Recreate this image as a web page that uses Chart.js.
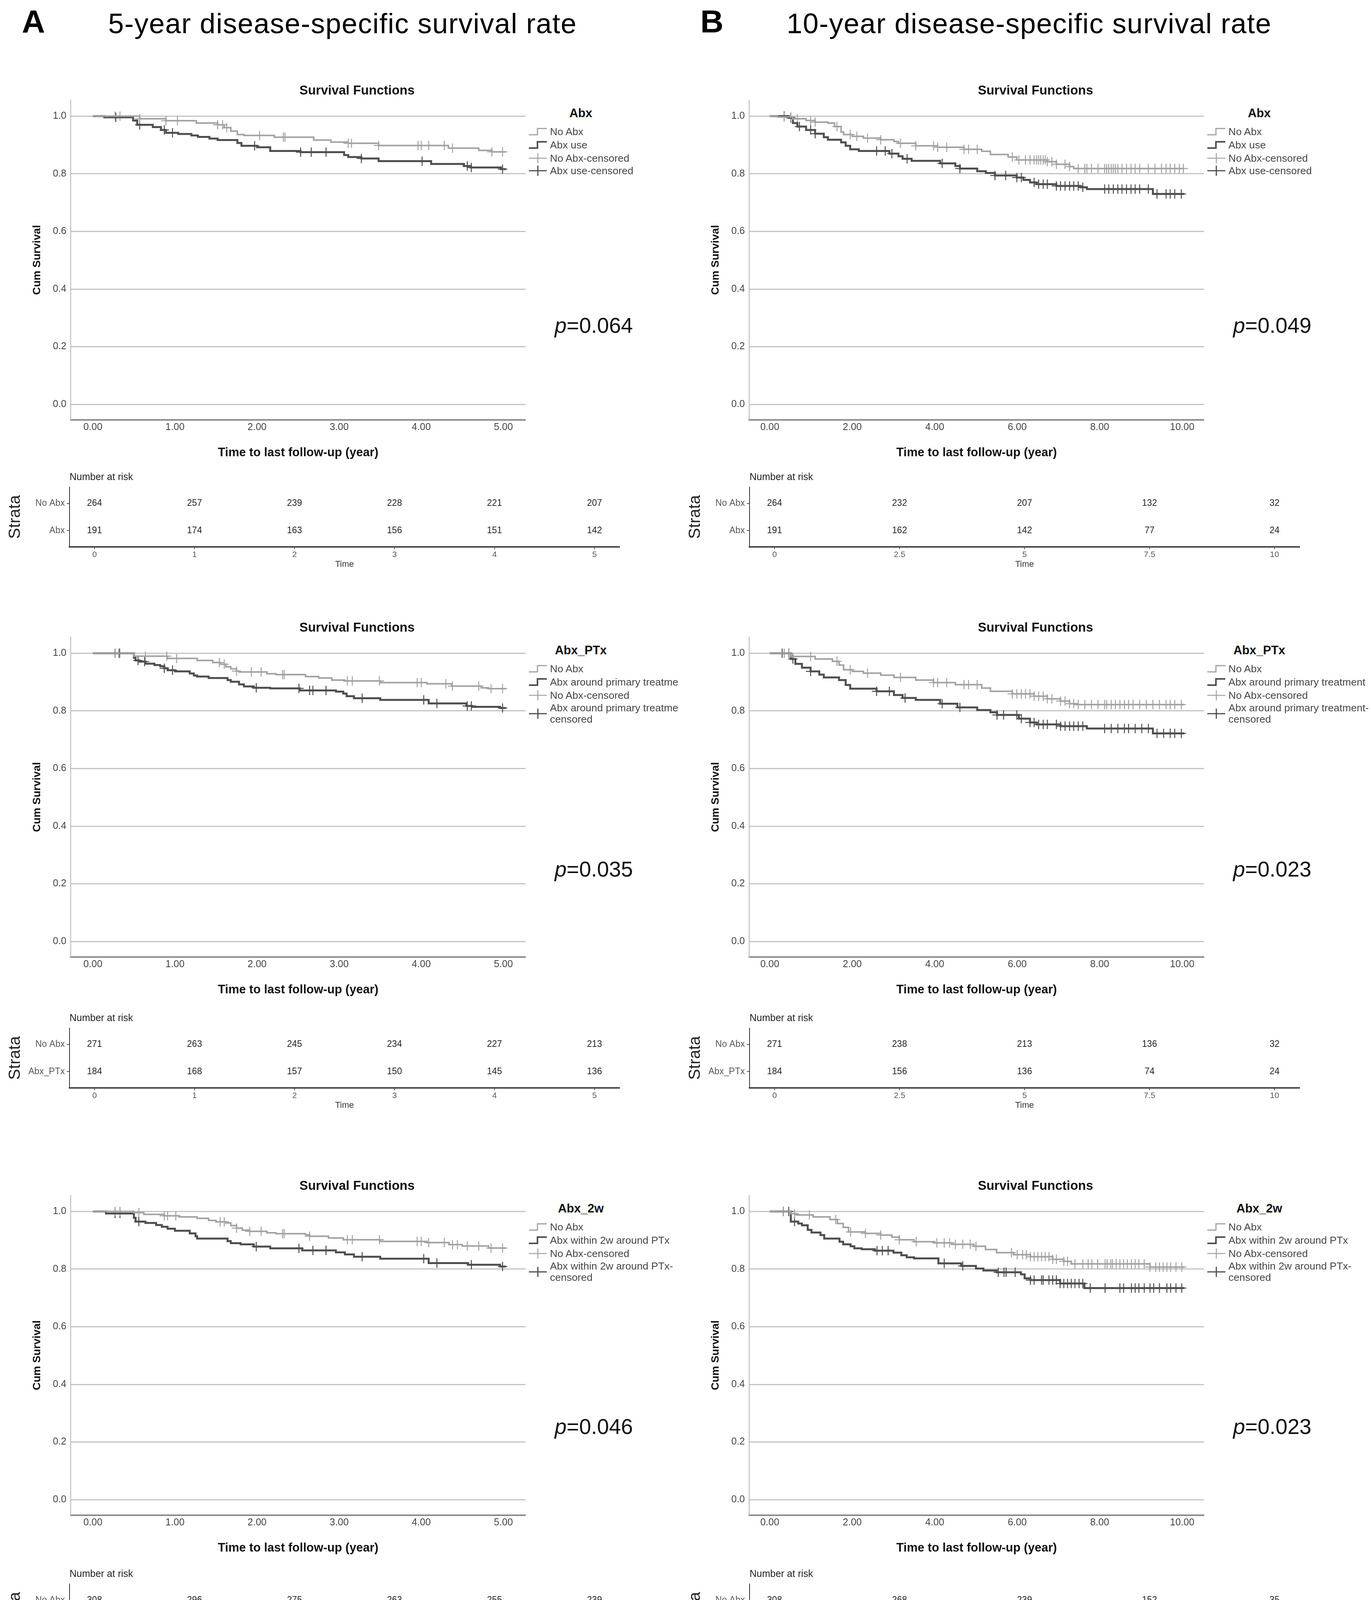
<!DOCTYPE html>
<html>
<head>
<meta charset="utf-8">
<script src="https://cdn.jsdelivr.net/npm/chart.js"></script>
<style>
  html { height: 5703px; }
  body { margin: 0; background: #fff; width: 3510px; height: 5703px; position: relative; overflow: hidden;
         font-family: "Liberation Sans", Arial, Helvetica, sans-serif; }
  canvas { position: absolute; }
  .t { position: absolute; white-space: nowrap; line-height: 1; }
</style>
</head>
<body>
<script>
// ---- values ----
const kmTicksA = [0, 1, 2, 3, 4, 5];
const kmTicksB = [0, 2, 4, 6, 8, 10];
const kmYTicks = [0, 0.2, 0.4, 0.6, 0.8, 1.0];
const riskTimesA = [0, 1, 2, 3, 4, 5];
const riskTimesB = [0, 2.5, 5, 7.5, 10];
const groupNames = ['Abx', 'Abx_PTx', 'Abx_2w', 'Abx_1w'];
const pValues = ['0.064', '0.049', '0.035', '0.023', '0.046', '0.023', '0.026', '0.039'];

// A1 (5-year, Abx)
const a1NoT = [0, 0.57, 0.89, 1.26, 1.52, 1.60, 1.68, 1.76, 1.84, 2.21, 2.69, 2.90, 3.11, 3.48, 4.33, 4.70, 4.86];
const a1NoS = [1, 0.991, 0.984, 0.976, 0.970, 0.960, 0.948, 0.936, 0.933, 0.927, 0.917, 0.910, 0.906, 0.898, 0.889, 0.881, 0.876];
const a1NoC = [0.27, 0.33, 0.57, 0.89, 1.03, 1.52, 1.58, 1.63, 2.03, 2.32, 2.34, 3.11, 3.15, 3.48, 3.96, 4.00, 4.09, 4.28, 4.38, 4.86, 4.99];
const a1AbT = [0, 0.14, 0.49, 0.54, 0.73, 0.83, 0.89, 1.04, 1.20, 1.28, 1.42, 1.52, 1.76, 1.81, 2.00, 2.16, 2.53, 3.06, 3.11, 3.27, 3.48, 4.12, 4.52, 4.60, 4.97];
const a1AbS = [1, 0.996, 0.985, 0.970, 0.962, 0.952, 0.942, 0.938, 0.933, 0.928, 0.922, 0.917, 0.907, 0.897, 0.892, 0.879, 0.875, 0.865, 0.858, 0.853, 0.844, 0.834, 0.827, 0.822, 0.816];
const a1AbC = [0.28, 0.57, 0.87, 0.97, 1.97, 2.53, 2.66, 2.84, 3.27, 4.01, 4.56, 4.61, 4.99];
const a1RiskNo = [264, 257, 239, 228, 221, 207];
const a1RiskAb = [191, 174, 163, 156, 151, 142];

// B1 (10-year, Abx)
const b1NoT = [0, 0.19, 0.56, 0.88, 1.10, 1.41, 1.57, 1.73, 1.79, 2.00, 2.27, 2.69, 3.01, 3.12, 3.54, 4.07, 4.71, 5.14, 5.35, 5.78, 5.99, 6.73, 6.95, 7.27, 7.37];
const b1NoS = [1, 0.997, 0.991, 0.985, 0.979, 0.976, 0.964, 0.945, 0.936, 0.930, 0.924, 0.918, 0.912, 0.906, 0.897, 0.892, 0.885, 0.878, 0.867, 0.858, 0.848, 0.842, 0.833, 0.825, 0.818];
const b1NoC = [0.35, 0.51, 0.67, 0.99, 1.10, 1.63, 1.95, 2.11, 2.37, 2.69, 3.17, 3.54, 3.97, 4.07, 4.29, 4.71, 4.82, 5.03, 5.88, 6.04, 6.20, 6.31, 6.41, 6.47, 6.52, 6.57, 6.63, 6.68, 6.73, 6.84, 6.95, 7.16, 7.27, 7.48, 7.64, 7.69, 7.80, 7.96, 8.12, 8.17, 8.22, 8.28, 8.33, 8.38, 8.44, 8.54, 8.65, 8.76, 8.86, 8.97, 9.18, 9.34, 9.50, 9.61, 9.71, 9.82, 9.93, 10.03];
const b1AbT = [0, 0.46, 0.56, 0.67, 0.88, 1.10, 1.31, 1.41, 1.73, 1.84, 1.95, 2.16, 2.90, 3.12, 3.22, 3.44, 4.13, 4.50, 4.61, 5.03, 5.24, 5.46, 5.99, 6.15, 6.31, 6.47, 6.95, 7.53, 7.69, 9.29];
const b1AbS = [1, 0.994, 0.976, 0.964, 0.952, 0.939, 0.927, 0.918, 0.909, 0.897, 0.885, 0.879, 0.870, 0.861, 0.852, 0.845, 0.836, 0.827, 0.818, 0.809, 0.803, 0.794, 0.787, 0.779, 0.770, 0.764, 0.758, 0.753, 0.747, 0.730];
const b1AbC = [0.35, 0.51, 0.72, 0.99, 1.10, 2.59, 2.80, 2.96, 3.33, 4.18, 4.61, 5.46, 5.72, 5.99, 6.10, 6.41, 6.52, 6.63, 6.73, 6.95, 7.05, 7.16, 7.27, 7.37, 7.48, 7.59, 8.12, 8.22, 8.33, 8.44, 8.54, 8.65, 8.76, 8.86, 8.97, 9.18, 9.39, 9.61, 9.71, 9.82, 9.98];
const b1RiskNo = [264, 232, 207, 132, 32];
const b1RiskAb = [191, 162, 142, 77, 24];

// A2 (5-year, Abx_PTx)
const a2NoT = [0, 0.50, 0.91, 1.27, 1.46, 1.55, 1.62, 1.68, 1.75, 1.78, 2.12, 2.23, 2.59, 2.75, 2.91, 3.07, 3.50, 4.07, 4.37, 4.73, 4.82];
const a2NoS = [1, 0.990, 0.982, 0.975, 0.968, 0.962, 0.953, 0.946, 0.938, 0.935, 0.929, 0.926, 0.919, 0.914, 0.907, 0.904, 0.898, 0.894, 0.886, 0.880, 0.877];
const a2NoC = [0.27, 0.33, 0.64, 0.90, 1.02, 1.54, 1.60, 1.75, 1.93, 2.05, 2.31, 2.33, 3.10, 3.16, 3.49, 3.95, 4.00, 4.30, 4.38, 4.70, 4.85, 4.99];
const a2AbT = [0, 0.50, 0.52, 0.57, 0.64, 0.75, 0.82, 0.87, 0.91, 1.00, 1.18, 1.23, 1.27, 1.41, 1.64, 1.68, 1.78, 1.84, 1.96, 2.16, 2.52, 2.96, 3.05, 3.09, 3.18, 3.50, 4.09, 4.55, 4.62, 4.96];
const a2AbS = [1, 0.984, 0.975, 0.971, 0.964, 0.959, 0.955, 0.948, 0.941, 0.937, 0.930, 0.923, 0.919, 0.914, 0.907, 0.901, 0.892, 0.885, 0.880, 0.878, 0.871, 0.867, 0.860, 0.851, 0.844, 0.838, 0.826, 0.817, 0.814, 0.810];
const a2AbC = [0.27, 0.32, 0.55, 0.63, 0.87, 0.97, 1.99, 2.51, 2.64, 2.68, 2.84, 3.28, 4.03, 4.19, 4.56, 4.61, 4.99];
const a2RiskNo = [271, 263, 245, 234, 227, 213];
const a2RiskAb = [184, 168, 157, 150, 145, 136];

// B2 (10-year, Abx_PTx)
const b2NoT = [0, 0.51, 1.10, 1.52, 1.68, 1.79, 2.00, 2.27, 2.69, 3.01, 3.54, 3.97, 4.50, 5.14, 5.35, 5.88, 6.41, 6.73, 7.05, 7.27, 7.43];
const b2NoS = [1, 0.989, 0.980, 0.972, 0.959, 0.943, 0.937, 0.931, 0.924, 0.916, 0.907, 0.898, 0.891, 0.879, 0.868, 0.859, 0.851, 0.842, 0.834, 0.825, 0.822];
const b2NoC = [0.35, 0.46, 0.99, 1.63, 1.95, 2.37, 3.17, 3.97, 4.07, 4.29, 4.71, 4.82, 5.03, 5.88, 5.99, 6.10, 6.20, 6.31, 6.41, 6.52, 6.63, 6.73, 6.84, 7.05, 7.16, 7.27, 7.37, 7.48, 7.64, 7.80, 7.96, 8.12, 8.17, 8.28, 8.38, 8.49, 8.60, 8.70, 8.81, 8.97, 9.13, 9.29, 9.45, 9.61, 9.71, 9.82, 9.98];
const b2AbT = [0, 0.51, 0.62, 0.78, 0.99, 1.20, 1.31, 1.68, 1.84, 1.95, 2.59, 3.01, 3.22, 3.54, 4.13, 4.55, 5.03, 5.35, 5.51, 6.04, 6.31, 6.47, 7.05, 7.69, 9.29];
const b2AbS = [1, 0.980, 0.963, 0.950, 0.937, 0.926, 0.916, 0.907, 0.890, 0.877, 0.868, 0.855, 0.845, 0.838, 0.825, 0.812, 0.803, 0.795, 0.786, 0.773, 0.760, 0.753, 0.747, 0.739, 0.722];
const b2AbC = [0.30, 0.46, 0.56, 0.99, 2.59, 2.90, 3.28, 4.18, 4.61, 5.51, 5.67, 5.99, 6.10, 6.31, 6.41, 6.52, 6.63, 6.73, 6.95, 7.05, 7.16, 7.27, 7.37, 7.48, 7.59, 8.12, 8.28, 8.44, 8.60, 8.70, 8.86, 9.02, 9.18, 9.39, 9.55, 9.71, 9.82, 9.98];
const b2RiskNo = [271, 238, 213, 136, 32];
const b2RiskAb = [184, 156, 136, 74, 24];

// A3 (5-year, Abx_2w)
const a3NoT = [0, 0.50, 0.62, 0.87, 1.05, 1.27, 1.41, 1.50, 1.62, 1.68, 1.75, 1.82, 1.91, 2.12, 2.23, 2.59, 2.64, 2.87, 3.05, 3.50, 4.07, 4.34, 4.50, 4.82];
const a3NoS = [1, 0.996, 0.990, 0.985, 0.981, 0.976, 0.969, 0.964, 0.960, 0.951, 0.942, 0.935, 0.931, 0.926, 0.923, 0.919, 0.914, 0.908, 0.902, 0.896, 0.892, 0.885, 0.880, 0.873];
const a3NoC = [0.27, 0.33, 0.56, 0.87, 0.91, 1.01, 1.55, 1.60, 1.75, 1.91, 2.05, 2.31, 2.33, 2.64, 3.10, 3.16, 3.49, 3.95, 4.00, 4.09, 4.28, 4.38, 4.44, 4.56, 4.70, 4.85, 4.99];
const a3AbT = [0, 0.16, 0.50, 0.52, 0.64, 0.77, 0.84, 0.91, 1.00, 1.18, 1.25, 1.27, 1.64, 1.68, 1.80, 1.96, 2.16, 2.55, 2.96, 3.07, 3.18, 3.50, 4.09, 4.57, 4.96];
const a3AbS = [1, 0.993, 0.978, 0.965, 0.960, 0.953, 0.947, 0.940, 0.933, 0.924, 0.914, 0.906, 0.897, 0.890, 0.886, 0.878, 0.872, 0.865, 0.858, 0.851, 0.843, 0.836, 0.821, 0.815, 0.809];
const a3AbC = [0.27, 0.33, 0.56, 1.99, 2.51, 2.68, 2.84, 3.28, 4.03, 4.19, 4.61, 4.99];
const a3RiskNo = [308, 296, 275, 263, 255, 239];
const a3RiskAb = [147, 135, 127, 121, 117, 110];

// B3 (10-year, Abx_2w)
const b3NoT = [0, 0.51, 0.64, 1.05, 1.46, 1.64, 1.78, 1.91, 2.32, 2.69, 2.96, 3.14, 3.50, 4.00, 4.41, 4.95, 5.23, 5.50, 5.91, 6.32, 6.86, 7.13, 7.31, 9.22];
const b3NoS = [1, 0.992, 0.988, 0.981, 0.972, 0.958, 0.945, 0.929, 0.924, 0.918, 0.911, 0.902, 0.895, 0.891, 0.886, 0.879, 0.868, 0.857, 0.850, 0.843, 0.834, 0.827, 0.818, 0.807];
const b3NoC = [0.33, 0.60, 0.96, 1.60, 1.96, 2.32, 2.69, 3.14, 3.55, 4.05, 4.23, 4.36, 4.50, 4.68, 4.86, 5.00, 5.86, 6.00, 6.13, 6.22, 6.32, 6.41, 6.50, 6.59, 6.68, 6.77, 6.86, 6.95, 7.13, 7.22, 7.40, 7.59, 7.72, 7.81, 7.95, 8.13, 8.18, 8.27, 8.31, 8.40, 8.49, 8.58, 8.67, 8.77, 8.86, 8.95, 9.08, 9.22, 9.36, 9.45, 9.54, 9.63, 9.72, 9.85, 9.99];
const b3AbT = [0, 0.51, 0.69, 0.78, 0.92, 1.01, 1.23, 1.32, 1.69, 1.78, 1.96, 2.05, 2.23, 2.55, 3.00, 3.19, 3.32, 3.50, 4.09, 4.64, 5.00, 5.18, 5.50, 6.09, 6.18, 6.32, 7.04, 7.63];
const b3AbS = [1, 0.965, 0.958, 0.952, 0.936, 0.927, 0.918, 0.906, 0.895, 0.886, 0.879, 0.872, 0.869, 0.864, 0.857, 0.848, 0.841, 0.837, 0.820, 0.811, 0.802, 0.795, 0.789, 0.782, 0.768, 0.762, 0.750, 0.734];
const b3AbC = [0.33, 0.46, 0.60, 2.60, 2.73, 2.87, 4.23, 4.68, 5.54, 5.68, 5.73, 5.95, 6.32, 6.41, 6.59, 6.63, 6.77, 6.86, 6.95, 7.04, 7.13, 7.22, 7.31, 7.40, 7.50, 7.59, 7.77, 8.13, 8.49, 8.58, 8.77, 8.86, 8.95, 9.08, 9.22, 9.31, 9.45, 9.63, 9.72, 9.85, 9.99];
const b3RiskNo = [308, 268, 239, 152, 35];
const b3RiskAb = [147, 126, 110, 57, 21];

// A4 (5-year, Abx_1w)
const a4NoT = [0, 0.52, 0.64, 0.87, 1.27, 1.41, 1.52, 1.64, 1.71, 1.78, 1.84, 1.91, 2.12, 2.30, 2.57, 2.66, 2.87, 3.05, 3.46, 4.07, 4.37, 4.50, 4.82, 4.94];
const a4NoS = [1, 0.992, 0.985, 0.979, 0.974, 0.967, 0.960, 0.956, 0.947, 0.938, 0.931, 0.928, 0.923, 0.921, 0.916, 0.913, 0.909, 0.902, 0.896, 0.892, 0.887, 0.884, 0.879, 0.873];
const a4NoC = [0.27, 0.33, 0.56, 0.87, 0.90, 1.01, 1.55, 1.60, 1.75, 1.91, 2.05, 2.31, 2.33, 2.64, 3.10, 3.16, 3.49, 3.95, 4.00, 4.09, 4.22, 4.30, 4.38, 4.44, 4.56, 4.70, 4.85, 4.99];
const a4AbT = [0, 0.16, 0.50, 0.55, 0.64, 0.77, 0.87, 0.91, 1.00, 1.18, 1.23, 1.27, 1.64, 1.68, 1.80, 1.96, 2.16, 2.55, 2.96, 3.07, 3.18, 3.50, 4.09, 4.57];
const a4AbS = [1, 0.996, 0.972, 0.968, 0.960, 0.951, 0.943, 0.936, 0.928, 0.918, 0.909, 0.903, 0.895, 0.886, 0.879, 0.870, 0.861, 0.853, 0.846, 0.837, 0.827, 0.820, 0.802, 0.795];
const a4AbC = [0.27, 0.33, 1.99, 2.51, 2.84, 3.28, 4.62, 4.99];
const a4RiskNo = [332, 318, 297, 284, 276, 257];
const a4RiskAb = [123, 113, 105, 100, 96, 92];

// B4 (10-year, Abx_1w)
const b4NoT = [0, 0.60, 0.96, 1.42, 1.60, 1.73, 1.87, 2.32, 2.69, 2.96, 3.14, 3.55, 4.05, 4.27, 4.77, 5.05, 5.23, 5.50, 5.91, 6.32, 6.86, 7.13, 7.31, 9.22, 9.49];
const b4NoS = [1, 0.989, 0.980, 0.971, 0.959, 0.946, 0.930, 0.923, 0.916, 0.907, 0.902, 0.898, 0.894, 0.889, 0.882, 0.873, 0.862, 0.850, 0.844, 0.834, 0.825, 0.819, 0.814, 0.810, 0.802];
const b4NoC = [0.33, 0.60, 0.96, 1.60, 1.96, 2.32, 2.69, 3.14, 3.55, 4.05, 4.23, 4.36, 4.50, 4.68, 4.86, 5.00, 5.86, 6.00, 6.13, 6.22, 6.32, 6.41, 6.50, 6.59, 6.68, 6.77, 6.86, 6.95, 7.13, 7.22, 7.40, 7.59, 7.72, 7.81, 7.95, 8.13, 8.18, 8.27, 8.31, 8.40, 8.49, 8.58, 8.67, 8.77, 8.86, 8.95, 9.08, 9.22, 9.36, 9.45, 9.54, 9.63, 9.72, 9.85, 9.99];
const b4AbT = [0, 0.10, 0.51, 0.64, 0.78, 0.92, 1.01, 1.19, 1.28, 1.32, 1.69, 1.78, 1.96, 2.19, 2.55, 3.00, 3.19, 3.32, 3.50, 4.09, 4.59, 5.18, 5.50, 6.09, 6.32, 7.04, 7.63];
const b4AbS = [1, 0.993, 0.968, 0.964, 0.957, 0.948, 0.939, 0.930, 0.918, 0.905, 0.893, 0.882, 0.876, 0.866, 0.857, 0.848, 0.834, 0.827, 0.820, 0.805, 0.796, 0.787, 0.778, 0.757, 0.755, 0.746, 0.728];
const b4AbC = [0.33, 0.42, 0.60, 2.60, 2.87, 3.32, 4.59, 5.45, 5.68, 5.86, 6.00, 6.13, 6.22, 6.32, 6.50, 6.59, 6.77, 6.86, 6.95, 7.09, 7.13, 7.22, 7.31, 7.40, 7.50, 7.59, 7.77, 8.13, 8.49, 8.58, 8.77, 8.86, 8.95, 9.08, 9.22, 9.31, 9.45, 9.63, 9.72, 9.85, 9.99];
const b4RiskNo = [332, 290, 257, 161, 38];
const b4RiskAb = [123, 104, 92, 48, 18];

// legend wording per panel (A2 is cut off in the original)
const abxLabels = ['Abx use', 'Abx use', 'Abx around primary treatme', 'Abx around primary treatment',
                   'Abx within 2w around PTx', 'Abx within 2w around PTx', 'Abx within 1w around PTx', 'Abx within 1w around PTx'];
const censLabels = [['Abx use-censored'], ['Abx use-censored'],
                    ['Abx around primary treatme', 'censored'], ['Abx around primary treatment-', 'censored'],
                    ['Abx within 2w around PTx-', 'censored'], ['Abx within 2w around PTx-', 'censored'],
                    ['Abx within 1w around PTx-', 'censored'], ['Abx within 1w around PTx-', 'censored']];

const panels = [
  {col: 0, row: 0, noT: a1NoT, noS: a1NoS, noC: a1NoC, abT: a1AbT, abS: a1AbS, abC: a1AbC, riskNo: a1RiskNo, riskAb: a1RiskAb},
  {col: 1, row: 0, noT: b1NoT, noS: b1NoS, noC: b1NoC, abT: b1AbT, abS: b1AbS, abC: b1AbC, riskNo: b1RiskNo, riskAb: b1RiskAb},
  {col: 0, row: 1, noT: a2NoT, noS: a2NoS, noC: a2NoC, abT: a2AbT, abS: a2AbS, abC: a2AbC, riskNo: a2RiskNo, riskAb: a2RiskAb},
  {col: 1, row: 1, noT: b2NoT, noS: b2NoS, noC: b2NoC, abT: b2AbT, abS: b2AbS, abC: b2AbC, riskNo: b2RiskNo, riskAb: b2RiskAb},
  {col: 0, row: 2, noT: a3NoT, noS: a3NoS, noC: a3NoC, abT: a3AbT, abS: a3AbS, abC: a3AbC, riskNo: a3RiskNo, riskAb: a3RiskAb},
  {col: 1, row: 2, noT: b3NoT, noS: b3NoS, noC: b3NoC, abT: b3AbT, abS: b3AbS, abC: b3AbC, riskNo: b3RiskNo, riskAb: b3RiskAb},
  {col: 0, row: 3, noT: a4NoT, noS: a4NoS, noC: a4NoC, abT: a4AbT, abS: a4AbS, abC: a4AbC, riskNo: a4RiskNo, riskAb: a4RiskAb},
  {col: 1, row: 3, noT: b4NoT, noS: b4NoS, noC: b4NoC, abT: b4AbT, abS: b4AbS, abC: b4AbC, riskNo: b4RiskNo, riskAb: b4RiskAb},
];

// ---- layout ----
const FONT = '"Liberation Sans", Arial, Helvetica, sans-serif';
Chart.defaults.font.family = FONT;
const NO_COL = '#a2a2a2';
const AB_COL = '#4e4e4e';
const colX = [0, 1737];
const rowY = [0, 1375, 2804, 4217];
const tableY = [0, 1385, 2808, 4228];
const pY = [833, 850, 848, 838];

function put(html, x, y, css, center) {
  const d = document.createElement('div');
  d.className = 't';
  d.innerHTML = html;
  d.style.cssText = 'left:' + x + 'px;top:' + y + 'px;transform:translate(' + (center ? '-50%' : '0') + ',-50%);' + css;
  document.body.appendChild(d);
}

function addCanvas(x, y, w, h) {
  const cv = document.createElement('canvas');
  cv.width = w; cv.height = h;
  cv.style.left = x + 'px'; cv.style.top = y + 'px';
  cv.style.width = w + 'px'; cv.style.height = h + 'px';
  document.body.appendChild(cv);
  return cv;
}

// survival value at a censoring time, looked up on the step curve
function survAt(T, S, t) {
  let v = S[0];
  for (let i = 0; i < T.length; i++) if (T[i] <= t) v = S[i];
  return v;
}

function drawKm(p) {
  const isB = p.col === 1;
  const end = isB ? 10.05 : 5.03;
  const curve = (T, S) => T.map((t, i) => ({x: t, y: S[i]})).concat([{x: end, y: S[S.length - 1]}]);
  const marks = (C, T, S) => C.map(t => ({x: t, y: survAt(T, S, t)}));
  const cv = addCanvas(colX[p.col], rowY[p.row] + 200, 1360, 1000);

  new Chart(cv, {
    type: 'line',
    data: {
      datasets: [
        {label: 'No Abx', data: curve(p.noT, p.noS), stepped: true, borderColor: NO_COL, borderWidth: 4, pointRadius: 0, fill: false},
        {label: 'Abx', data: curve(p.abT, p.abS), stepped: true, borderColor: AB_COL, borderWidth: 5, pointRadius: 0, fill: false},
        {label: 'No Abx-censored', data: marks(p.noC, p.noT, p.noS), showLine: false, pointStyle: 'cross',
         pointRadius: 12, pointBorderWidth: 2.5, pointBorderColor: NO_COL, borderColor: NO_COL},
        {label: 'Abx-censored', data: marks(p.abC, p.abT, p.abS), showLine: false, pointStyle: 'cross',
         pointRadius: 12, pointBorderWidth: 2.5, pointBorderColor: AB_COL, borderColor: AB_COL},
      ]
    },
    options: {
      responsive: false, animation: false, devicePixelRatio: 1, events: [],
      layout: {padding: {left: 0, top: 56, right: 13, bottom: 20}},
      plugins: {legend: {display: false}, tooltip: {enabled: false}},
      scales: {
        x: {
          type: 'linear', min: isB ? -0.5 : -0.27, max: isB ? 10.53 : 5.27,
          afterBuildTicks: s => { s.ticks = (isB ? kmTicksB : kmTicksA).map(v => ({value: v})); },
          afterFit: s => { s.height = 105; },
          grid: {display: false, drawTicks: false},
          border: {display: true, color: '#8c8c8c', width: 4},
          ticks: {padding: 4, color: '#444', font: {size: 25}, maxRotation: 0, callback: v => Number(v).toFixed(2)},
          title: {display: true, text: 'Time to last follow-up (year)', color: '#111',
                  font: {size: 31, weight: 'bold'}, padding: {top: 0, bottom: 2}}
        },
        y: {
          min: -0.054, max: 1.056,
          afterBuildTicks: s => { s.ticks = kmYTicks.map(v => ({value: v})); },
          afterFit: s => { s.width = 181; },
          grid: {color: '#c4c4c4', lineWidth: 3, drawTicks: false},
          border: {display: true, color: '#b4b4b4', width: 2},
          ticks: {padding: 11, color: '#444', font: {size: 25}, callback: v => Number(v).toFixed(1)},
          title: {display: true, text: 'Cum Survival', color: '#111',
                  font: {size: 28, weight: 'bold'}, padding: {top: 78, bottom: 0}}
        }
      }
    }
  });
}

const riskText = {
  id: 'riskText',
  afterDatasetsDraw(chart) {
    const ctx = chart.ctx;
    ctx.save();
    ctx.font = '23px ' + FONT;
    ctx.fillStyle = '#222';
    ctx.textAlign = 'center';
    ctx.textBaseline = 'middle';
    chart.data.datasets.forEach((ds, d) => {
      chart.getDatasetMeta(d).data.forEach((el, i) => {
        ctx.fillText(String(ds.data[i].n), el.x, el.y);
      });
    });
    ctx.restore();
  }
};

function drawRisk(p) {
  const isB = p.col === 1;
  const times = isB ? riskTimesB : riskTimesA;
  const strata = ['No Abx', groupNames[p.row]];
  const cv = addCanvas(colX[p.col] + (isB ? 4 : 0), tableY[p.row] + 1190, 1620, 280);

  new Chart(cv, {
    type: 'scatter',
    data: {
      datasets: [p.riskNo, p.riskAb].map((counts, r) => ({
        label: strata[r],
        data: times.map((t, i) => ({x: t, y: r + 1, n: counts[i]})),
        pointRadius: 0
      }))
    },
    plugins: [riskText],
    options: {
      responsive: false, animation: false, devicePixelRatio: 1, events: [],
      layout: {padding: {left: 0, top: 12, right: 34, bottom: 0}},
      plugins: {
        legend: {display: false}, tooltip: {enabled: false},
        title: {display: true, text: 'Number at risk', align: 'start', fullSize: false, color: '#222',
                font: {size: 25, weight: 'normal'}, padding: {top: 5, bottom: 10}}
      },
      scales: {
        x: {
          type: 'linear', min: isB ? -0.5 : -0.25, max: isB ? 10.5 : 5.25,
          afterBuildTicks: s => { s.ticks = times.map(v => ({value: v})); },
          afterFit: s => { s.height = 70; },
          grid: {drawOnChartArea: false, drawTicks: true, tickLength: 6, color: '#555', lineWidth: 2},
          border: {display: true, color: '#4a4a4a', width: 4},
          ticks: {padding: 2, color: '#555', font: {size: 21}, maxRotation: 0, callback: v => String(v)},
          title: {display: true, text: 'Time', color: '#333', font: {size: 22}, padding: {top: 0, bottom: 12}}
        },
        y: {
          type: 'linear', reverse: true, min: 0.4, max: 2.6,
          afterBuildTicks: s => { s.ticks = [1, 2].map(v => ({value: v})); },
          afterFit: s => { s.width = 178; },
          grid: {drawOnChartArea: false, drawTicks: true, tickLength: 7, color: '#555', lineWidth: 2},
          border: {display: true, color: '#333', width: 2},
          ticks: {padding: 5, color: '#555', font: {size: 23}, callback: v => strata[Math.round(v) - 1]},
          title: {display: true, text: 'Strata', color: '#222', font: {size: 42}, padding: {top: 14, bottom: 0}}
        }
      }
    }
  });
}

function symbol(kind, color, w) {
  if (kind === 'line') {
    return '<svg width="46" height="22" viewBox="0 0 46 22"><path d="M0 19 H22 V3 H46" fill="none" stroke="' +
      color + '" stroke-width="' + w + '"/></svg>';
  }
  return '<svg width="46" height="28" viewBox="0 0 46 28"><path d="M0 14 H46 M23 1 V27" fill="none" stroke="' +
    color + '" stroke-width="' + w + '"/></svg>';
}

function drawLegend(p, idx) {
  const x0 = colX[p.col], y0 = rowY[p.row];
  put(groupNames[p.row], x0 + 1487, y0 + 289, 'font-size:31px;font-weight:bold;color:#111;', true);
  const items = [
    {kind: 'line', color: NO_COL, w: 3, text: ['No Abx'], y: 337},
    {kind: 'line', color: AB_COL, w: 4, text: [abxLabels[idx]], y: 371},
    {kind: 'cross', color: NO_COL, w: 2.5, text: ['No Abx-censored'], y: 405},
    {kind: 'cross', color: AB_COL, w: 3, text: censLabels[idx], y: 437},
  ];
  items.forEach(it => {
    const symY = it.y + (it.text.length - 1) * 14.5;
    put(symbol(it.kind, it.color, it.w), x0 + 1354, y0 + symY, 'line-height:0;');
    it.text.forEach((line, k) => {
      put(line, x0 + 1408, y0 + it.y + k * 29, 'font-size:26.5px;color:#444;');
    });
  });
}

// headers
put('A', 56, 55, 'font-size:82px;font-weight:bold;color:#000;');
put('5-year disease-specific survival rate', 277, 60, 'font-size:72px;letter-spacing:1.5px;color:#000;');
put('B', 56 + 1737, 55, 'font-size:82px;font-weight:bold;color:#000;');
put('10-year disease-specific survival rate', 277 + 1737, 60, 'font-size:72px;letter-spacing:1.5px;color:#000;');

panels.forEach((p, idx) => {
  drawKm(p);
  drawRisk(p);
  const x0 = colX[p.col], y0 = rowY[p.row];
  put('Survival Functions', x0 + 914, y0 + 230, 'font-size:33px;font-weight:bold;color:#111;', true);
  drawLegend(p, idx);
  put('<i>p</i>=' + pValues[idx], x0 + 1420, y0 + pY[p.row], 'font-size:55px;color:#111;');
});
</script>
</body>
</html>
